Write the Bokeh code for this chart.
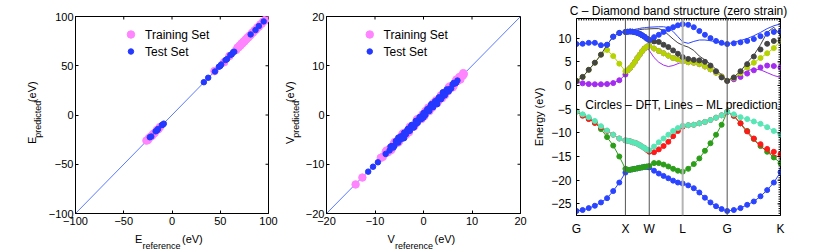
import math
from bokeh.plotting import figure
from bokeh.layouts import row, column
from bokeh.models import Range1d, FixedTicker, Span, Label
from bokeh.embed import file_html
from bokeh.resources import INLINE

FONT = "Liberation Sans"

# ---------------- Panel 1: total energies (eV) ----------------
e_train_ref = [-26.5, -25.0, -23.8, -22.3, -20.8, -19.5, -18.0, -15.5, -14.0, -12.5,
               44.0, 54.0, 59.5, 66.5, 68.0, 69.0, 70.0, 71.0, 72.0, 73.0, 74.0, 75.0,
               76.0, 77.0, 78.0, 79.0, 80.0, 81.5, 83.0, 84.0, 85.5, 87.0, 88.5, 90.0,
               91.5, 93.0, 94.5, 96.0, 97.5, 98.5, 99.5, 100.0]
e_train_pred = [-26.0, -25.4, -23.3, -22.0, -21.2, -19.2, -18.3, -15.1, -14.3, -12.2,
                44.6, 53.6, 59.9, 66.1, 68.5, 68.7, 70.4, 70.6, 72.5, 72.7, 74.4, 74.6,
                76.3, 76.8, 78.4, 78.7, 80.3, 81.2, 83.4, 83.7, 85.9, 86.6, 88.9, 89.7,
                91.9, 92.7, 94.8, 95.7, 97.8, 98.3, 99.7, 100.0]
e_test_ref = [-23.0, -21.5, -17.0, -15.5, -14.5, -10.5, -9.5, -8.5, 33.0, 37.5, 44.5, 48.5,
              50.0, 51.0, 55.5, 57.0, 60.5, 62.0, 63.5, 64.5, 81.5, 86.5, 90.0, 95.0]
e_test_pred = [-22.6, -21.8, -16.6, -15.7, -14.2, -10.2, -9.8, -8.8, 33.3, 37.8, 44.2, 48.9,
               49.7, 51.3, 55.8, 56.7, 60.9, 61.7, 63.9, 64.2, 81.8, 86.2, 90.3, 95.0]

# ---------------- Panel 2: potentials (eV) ----------------
v_train_ref = [-14.0, -12.6, -8.8, -8.4,
               -7.8, -7.4, -7.0, -6.6, -6.2, -5.8, -5.4, -5.0, -4.6, -4.2, -3.8, -3.4, -3.0,
               -2.6, -2.2, -1.8, -1.4, -1.0, -0.6, -0.2, 0.2, 0.6, 1.0, 1.4, 1.8, 2.2, 2.6,
               3.0, 3.4, 3.8, 4.2, 4.6, 5.0, 5.4, 5.8, 6.2, 6.6, 7.0, 7.4, 7.8, 8.1, 8.3,
               -7.6, -6.8, -6.0, -5.2, -4.4, -3.6, -2.8, -2.0, -1.2, -0.4, 0.4, 1.2, 2.0,
               2.8, 3.6, 4.4, 5.2, 6.0, 6.8, 7.6, 8.2]
v_train_pred = [-14.1, -12.7, -8.7, -8.5,
                -7.5, -7.6, -6.9, -7.0, -6.0, -5.4, -5.5, -5.3, -4.4, -3.7, -4.0, -3.3, -3.5,
                -2.3, -2.2, -2.1, -1.0, -0.9, -0.8, 0.1, -0.2, 0.8, 1.5, 1.3, 1.5, 2.4, 3.0,
                2.8, 3.5, 3.4, 4.5, 4.6, 4.8, 5.8, 5.9, 5.9, 6.8, 6.9, 7.7, 7.9, 8.0, 8.3,
                -7.2, -7.2, -5.6, -5.6, -4.0, -4.0, -2.4, -2.4, -0.8, -0.8, 0.8, 0.8, 2.4,
                2.4, 4.0, 4.0, 5.6, 5.6, 7.2, 7.2, 8.5]
v_test_ref = [-11.4, -10.4, -9.4, -7.8,
              -7.0, -6.5, -6.0, -5.5, -5.0, -4.6, -4.2, -3.8, -3.4, -3.0, -2.6, -2.2, -1.8,
              -1.4, -1.0, -0.6, -0.2, 0.2, 0.6, 1.0, 1.4, 1.8, 2.2, 2.6, 3.0, 3.4, 3.8, 4.2,
              4.6, 5.0, 5.5, 6.0, 6.5, 7.0,
              -4.0, 0.0, 2.8, -2.0, 1.6, -5.2, 4.0,
              -6.8, -6.2, -5.7, -5.2, -4.8, -4.4, -4.0, -3.6, -3.2, -2.8, -2.4, -2.0, -1.6,
              -1.2, -0.8, -0.4, 0.0, 0.4, 0.8, 1.2, 1.6, 2.0, 2.4, 2.8, 3.2, 3.6, 4.0, 4.4,
              4.8, 5.2, 5.7, 6.2, 6.7]
v_test_pred = [-11.5, -10.5, -9.6, -7.9,
               -7.2, -6.3, -6.3, -5.4, -5.1, -4.3, -4.5, -3.8, -3.2, -3.2, -2.3, -2.3, -2.1,
               -1.2, -1.0, -0.8, -0.1, -0.1, 0.8, 0.9, 1.7, 1.6, 2.3, 2.3, 3.2, 3.4, 3.6, 4.5,
               4.5, 5.1, 5.3, 6.2, 6.4, 7.0,
               -4.7, -0.5, 2.2, -2.5, 2.2, -4.6, 4.6,
               -6.4, -6.6, -5.3, -5.6, -4.5, -4.8, -3.6, -3.9, -2.8, -3.2, -2.0, -2.5, -1.2,
               -1.6, -0.4, -0.8, 0.4, 0.0, 1.2, 0.8, 2.0, 1.6, 2.8, 2.4, 3.6, 3.2, 4.4, 4.0,
               5.2, 4.8, 5.4, 6.5, 6.5]

# ---------------- Panel 3: diamond band structure ----------------
sym_labels = ["G", "X", "W", "L", "G", "K"]
sym_pos = [0.0, 1.0, 1.487, 2.17, 3.08, 4.17]
seg_points = [8, 10, 7, 8, 8]

# valence bands (DFT circles)
dft_v1 = [-26.5, -26.3, -25.9, -25.4, -24.7, -23.8, -22.3, -20.5, -18.4,
          -17.8, -17.8, -17.7, -17.6, -17.5, -17.4, -17.3, -17.2, -17.2, -17.3,
          -18.0, -18.6, -19.1, -19.6, -20.1, -20.5, -20.7,
          -21.1, -21.7, -22.6, -23.7, -24.7, -25.5, -26.1, -26.5,
          -26.3, -25.9, -25.2, -24.5, -23.4, -22.1, -20.5, -18.3]
dft_v2 = [-5.5, -6.2, -7.0, -7.9, -9.2, -10.9, -12.7, -15.0, -17.6,
          -17.8, -17.8, -17.7, -17.6, -17.5, -17.4, -17.3, -17.2, -17.1, -17.0,
          -16.4, -16.4, -16.7, -17.1, -17.6, -18.0, -18.2,
          -17.6, -16.6, -15.4, -13.8, -12.2, -10.4, -8.3, -5.6,
          -6.4, -8.0, -9.6, -11.3, -12.8, -14.0, -15.2, -16.4]
dft_v3 = [-5.5, -6.4, -7.1, -7.9, -8.8, -9.6, -10.4, -11.2, -11.6,
          -11.7, -11.8, -12.0, -12.1, -12.3, -12.6, -12.9, -13.2, -13.6, -14.0,
          -14.1, -13.5, -12.8, -11.9, -10.7, -9.6, -8.7,
          -8.4, -8.3, -8.0, -7.7, -7.3, -6.8, -6.3, -5.6,
          -6.4, -8.0, -9.7, -11.2, -12.4, -13.4, -14.0, -14.5]
dft_v4 = [-5.5, -6.1, -6.7, -7.5, -8.6, -9.5, -10.4, -11.2, -11.6,
          -11.7, -11.8, -12.0, -12.1, -12.3, -12.6, -12.9, -13.2, -13.5, -13.7,
          -12.9, -12.0, -11.2, -10.4, -9.6, -9.0, -8.5,
          -8.4, -8.3, -8.0, -7.7, -7.3, -6.8, -6.3, -5.6,
          -6.1, -6.7, -7.1, -7.6, -8.1, -8.8, -9.6, -10.4]
# valence bands (ML lines); bands 1, 2 and 4 coincide with the DFT values
ml_v1 = dft_v1
ml_v2 = dft_v2
ml_v3 = [-5.5, -6.4, -7.1, -7.9, -8.8, -9.6, -10.4, -11.2, -11.6,
         -11.7, -11.8, -12.0, -12.1, -12.3, -12.6, -12.9, -13.2, -13.6, -14.0,
         -14.2, -13.6, -12.9, -12.0, -10.8, -9.7, -8.7,
         -8.4, -8.3, -8.0, -7.7, -7.3, -6.8, -6.3, -5.6,
         -6.4, -8.1, -9.9, -11.5, -12.8, -13.9, -14.7, -15.2]
ml_v4 = dft_v4

# conduction bands (DFT circles)
dft_c5 = [0.85, 0.45, 0.3, 0.25, 0.25, 0.3, 0.5, 1.1, 2.3,
          3.2, 3.7, 4.3, 5.0, 5.8, 6.5, 7.2, 7.8, 8.2, 8.4,
          7.8, 7.3, 6.8, 6.3, 5.8, 5.5, 5.1,
          4.9, 4.8, 4.5, 4.0, 3.4, 2.7, 1.9, 1.0,
          1.3, 1.8, 2.5, 3.2, 3.8, 4.2, 4.1, 3.8]
dft_c6 = [1.0, 1.8, 3.3, 4.8, 6.5, 7.5, 6.2, 4.6, 3.0,
          3.2, 3.7, 4.3, 5.0, 5.8, 6.5, 7.2, 7.8, 8.2, 8.4,
          7.8, 7.3, 6.8, 6.3, 5.8, 5.5, 5.1,
          4.9, 4.8, 4.5, 4.0, 3.4, 2.7, 1.9, 1.0,
          1.6, 2.6, 3.8, 4.8, 5.8, 6.8, 7.9, 9.4]
dft_c7 = [0.95, 1.8, 3.3, 4.8, 6.5, 8.6, 10.3, 11.1, 11.3,
          11.35, 11.4, 11.35, 11.25, 11.1, 10.9, 10.6, 10.3, 9.9, 9.6,
          9.3, 9.2, 8.6, 8.1, 7.4, 6.7, 6.0,
          5.6, 5.4, 5.3, 5.0, 4.2, 3.0, 1.7, 0.95,
          1.7, 3.0, 4.5, 6.1, 7.6, 8.8, 9.4, 9.4]
dft_c8 = [8.75, 8.8, 9.0, 9.0, 8.5, 8.6, 10.3, 11.1, 11.3,
          11.35, 11.4, 11.35, 11.25, 11.1, 10.9, 10.6, 10.3, 9.9, 9.6,
          10.2, 10.7, 11.3, 11.9, 12.3, 12.7, 12.95,
          12.8, 12.3, 11.5, 10.7, 10.0, 9.4, 9.0, 8.75,
          8.9, 9.1, 9.4, 9.8, 10.4, 10.9, 11.3, 11.4]
# conduction bands (ML lines)
ml_c5 = [0.85, 0.45, 0.3, 0.25, 0.25, 0.3, 0.5, 1.1, 2.3,
         3.2, 3.7, 4.3, 5.0, 5.8, 6.5, 7.2, 7.8, 7.9, 7.4,
         5.9, 4.9, 4.3, 4.0, 4.2, 4.6, 5.0,
         4.9, 4.8, 4.5, 4.0, 3.4, 2.7, 1.9, 1.0,
         1.5, 2.3, 3.1, 3.5, 3.3, 2.7, 2.1, 1.7]
ml_c6 = dft_c6
ml_c7 = [0.95, 1.8, 3.3, 4.8, 6.5, 8.6, 10.3, 11.1, 11.3,
         11.35, 11.4, 11.5, 11.6, 11.7, 11.8, 11.85, 11.9, 11.9, 11.95,
         12.0, 12.0, 11.6, 10.7, 9.8, 9.0, 8.5,
         8.1, 7.4, 6.2, 5.4, 4.5, 3.4, 2.2, 1.0,
         1.8, 3.0, 4.8, 6.4, 8.6, 11.2, 12.3, 10.5]
ml_c8 = [8.75, 8.8, 9.0, 9.0, 8.5, 8.6, 10.3, 11.1, 11.3,
         11.4, 11.55, 11.7, 11.85, 11.95, 12.05, 12.15, 12.2, 12.25, 12.3,
         12.35, 12.4, 12.4, 12.2, 11.4, 10.3, 9.2,
         8.9, 9.3, 9.6, 9.6, 9.45, 9.2, 8.9, 8.75,
         9.1, 9.5, 9.9, 10.5, 11.2, 12.0, 12.6, 13.0]

# k-path sample positions (path distance along G-X-W-L-G-K)
kgrid = [sym_pos[0]]
for i, n in enumerate(seg_points):
    a, b = sym_pos[i], sym_pos[i + 1]
    for j in range(1, n + 1):
        kgrid.append(a + (b - a) * j / n)

# ---------------- styling ----------------
C_PINK = "#ff85ff"
C_TEST = "#2438ff"
C_DIAG = "#5a7aff"
C_BLUE = "#2a44ff"
C_BLACK = "#444444"
C_YEL = "#b5d300"
C_PURP = "#a32cf0"
C_CYAN = "#58e6b6"
C_RED = "#ff1a1a"
C_GREEN = "#2c9e1a"

# frame geometry in page pixels: left, top, width, height, x range, y range
F1 = (72, 16, 196, 197, (-100, 100), (-100, 100))
F2 = (324, 16, 196, 197, (-20, 20), (-20, 20))
F3 = (573, 17, 207, 198, (0.0, 4.17), (-27.46, 14.14))


def to_data(px, py, fr):
    left, top, w, h, xr, yr = fr
    x = xr[0] + (px - left) / w * (xr[1] - xr[0])
    y = yr[1] - (py - top) / h * (yr[1] - yr[0])
    return x, y


def add_text(p, fr, px, py, text, size, angle=0.0, align="left", baseline="alphabetic"):
    x, y = to_data(px, py, fr)
    p.add_layout(Label(x=x, y=y, text=text, text_font=FONT, text_font_size=size,
                       text_color="black", angle=angle, angle_units="rad",
                       text_align=align, text_baseline=baseline))


def make_fig(width, height, left, right, top, bottom, fr):
    p = figure(width=width, height=height, x_range=Range1d(*fr[4]), y_range=Range1d(*fr[5]),
               output_backend="svg", toolbar_location=None,
               min_border_left=left, min_border_right=right,
               min_border_top=top, min_border_bottom=bottom)
    p.xgrid.visible = False
    p.ygrid.visible = False
    p.outline_line_color = "black"
    p.outline_line_width = 1
    p.background_fill_color = "white"
    p.border_fill_color = "white"
    return p


def make_strip(x0, y0, width, height):
    """A blank text strip whose frame fills the whole canvas; its data units are page pixels."""
    fr = (x0, y0, width, height, (x0, x0 + width), (251 - (y0 + height), 251 - y0))
    p = figure(width=width, height=height, x_range=Range1d(*fr[4]), y_range=Range1d(*fr[5]),
               output_backend="svg", toolbar_location=None,
               x_axis_location=None, y_axis_location=None,
               min_border_left=0, min_border_right=0, min_border_top=0, min_border_bottom=0)
    p.xgrid.visible = False
    p.ygrid.visible = False
    p.outline_line_color = None
    p.background_fill_color = "white"
    p.border_fill_color = "white"
    return p, fr


def style_axis(ax, size="11px", tick_in=3, standoff=3):
    ax.axis_line_color = "black"
    ax.major_tick_in = tick_in
    ax.major_tick_out = 0
    ax.minor_tick_in = 0
    ax.minor_tick_out = 0
    ax.major_tick_line_color = "black"
    ax.major_label_text_font = FONT
    ax.major_label_text_color = "black"
    ax.major_label_text_font_size = size
    ax.major_label_standoff = standoff


def box_ticks(p, fr, xticks, yticks, length_px):
    left, top, w, h, xr, yr = fr
    dy = length_px / h * (yr[1] - yr[0])
    dx = length_px / w * (xr[1] - xr[0])
    if xticks:
        n = len(xticks)
        p.segment(x0=xticks, y0=[yr[1]] * n, x1=xticks, y1=[yr[1] - dy] * n,
                  line_color="black", line_width=1)
    if yticks:
        n = len(yticks)
        p.segment(x0=[xr[1]] * n, y0=yticks, x1=[xr[1] - dx] * n, y1=yticks,
                  line_color="black", line_width=1)


def scatter_panel(width, left, fr, ticks, overrides, tr_x, tr_y, te_x, te_y, leg_px):
    p = make_fig(width, 230, left, 10, 16, 17, fr)
    p.line(list(fr[4]), list(fr[5]), line_color=C_DIAG, line_width=1)
    p.scatter(tr_x, tr_y, marker="circle", size=7.5, fill_color=C_PINK, line_color=C_PINK)
    p.scatter(te_x, te_y, marker="circle", size=5.5, fill_color=C_TEST, line_color=C_TEST)
    p.xaxis[0].ticker = FixedTicker(ticks=ticks)
    p.xaxis[0].major_label_overrides = overrides
    style_axis(p.xaxis[0], size="11px", tick_in=3, standoff=3)
    p.yaxis[0].ticker = FixedTicker(ticks=ticks)
    p.yaxis[0].major_label_overrides = overrides
    style_axis(p.yaxis[0], size="11px", tick_in=3, standoff=2)
    box_ticks(p, fr, ticks, ticks, 3)
    # legend (marker + text), positions in page pixels
    mx, tx = leg_px
    lx1, ly1 = to_data(mx, 34, fr)
    lx2, ly2 = to_data(mx, 51, fr)
    p.scatter([lx1], [ly1], marker="circle", size=7.5, fill_color=C_PINK, line_color=C_PINK)
    p.scatter([lx2], [ly2], marker="circle", size=5.5, fill_color=C_TEST, line_color=C_TEST)
    add_text(p, fr, tx, 34.5, "Training Set", "12px", baseline="middle")
    add_text(p, fr, tx, 51.5, "Test Set", "12px", baseline="middle")
    return p


p1 = scatter_panel(233, 27, F1, [-100, -50, 0, 50, 100],
                   {-100: "\u2212100", -50: "\u221250"},
                   e_train_ref, e_train_pred, e_test_ref, e_test_pred, (128.3, 142.7))
p2 = scatter_panel(228, 22, F2, [-20, -10, 0, 10, 20],
                   {-20: "\u221220", -10: "\u221210"},
                   v_train_ref, v_train_pred, v_test_ref, v_test_pred, (367.7, 381.7))

# y-axis label strips (left of each scatter panel)
ys1, fy1 = make_strip(0, 0, 45, 230)
ys2, fy2 = make_strip(278, 0, 24, 230)
for strip, fr, sym, xb in ((ys1, fy1, "E", 31.0), (ys2, fy2, "V", 289.0)):
    add_text(strip, fr, xb, 149.0, sym, "11px", angle=math.pi / 2)
    add_text(strip, fr, xb + 6.0, 141.5, "predicted", "9px", angle=math.pi / 2)
    add_text(strip, fr, xb, 100.0, "(eV)", "11px", angle=math.pi / 2)

# x-axis label strip below both scatter panels
xs, fx = make_strip(0, 230, 530, 21)
for sym, xe, xsub, xev in (("E", 134.5, 142.0, 181.5), ("V", 387.0, 394.5, 434.0)):
    add_text(xs, fx, xe, 238.0, sym, "11px")
    add_text(xs, fx, xsub, 245.5, "reference", "9px")
    add_text(xs, fx, xev, 238.0, "(eV)", "11px")

# ---------------- band structure panel ----------------
p3 = make_fig(300, 251, 43, 50, 17, 36, F3)
p3.title.text = "C \u2013 Diamond band structure (zero strain)"
p3.title.align = "center"
p3.title.text_font = FONT
p3.title.text_font_size = "12px"
p3.title.text_font_style = "normal"
p3.title.text_color = "black"
p3.title.standoff = 2
for xpos, lab in zip(sym_pos[1:-1], sym_labels[1:-1]):
    if lab == "L":
        p3.add_layout(Span(location=xpos, dimension="height", line_color="#b4b4b4", line_width=2))
    else:
        p3.add_layout(Span(location=xpos, dimension="height", line_color="#555555", line_width=1))

bands = [(dft_v1, ml_v1, C_BLUE), (dft_v2, ml_v2, C_GREEN), (dft_v3, ml_v3, C_RED),
         (dft_v4, ml_v4, C_CYAN), (dft_c5, ml_c5, C_PURP), (dft_c6, ml_c6, C_YEL),
         (dft_c7, ml_c7, C_BLACK), (dft_c8, ml_c8, C_BLUE)]
for dft, ml, col in bands:
    p3.scatter(kgrid, dft, marker="circle", size=5, fill_color=col, line_color=col)
    p3.line(kgrid, ml, line_color=col, line_width=1)

e_ticks = [-25, -20, -15, -10, -5, 0, 5, 10]
xa = p3.xaxis[0]
xa.ticker = FixedTicker(ticks=sym_pos)
xa.major_label_overrides = {pos: lab for pos, lab in zip(sym_pos, sym_labels)}
style_axis(xa, size="12px", tick_in=0, standoff=6)
ya = p3.yaxis[0]
ya.ticker = FixedTicker(ticks=e_ticks)
ya.major_label_overrides = {-25: "\u221225", -20: "\u221220", -15: "\u221215",
                            -10: "\u221210", -5: "\u22125"}
style_axis(ya, size="12px", tick_in=3, standoff=5)
ya.axis_label = "Energy (eV)"
ya.axis_label_text_font = FONT
ya.axis_label_text_font_size = "11px"
ya.axis_label_text_font_style = "normal"
ya.axis_label_text_color = "black"
ya.axis_label_standoff = 3
box_ticks(p3, F3, [i * 0.05 for i in range(84)], [-27 + i * 0.5 for i in range(83)], 2)
box_ticks(p3, F3, None, e_ticks, 3)

add_text(p3, F3, 582.0, 103.5, "Circles \u2013 DFT, Lines \u2013 ML prediction", "12px")

left_block = column(row(ys1, p1, ys2, p2), xs)
layout = row(left_block, p3)
open("out.html", "w").write(file_html(layout, INLINE))
